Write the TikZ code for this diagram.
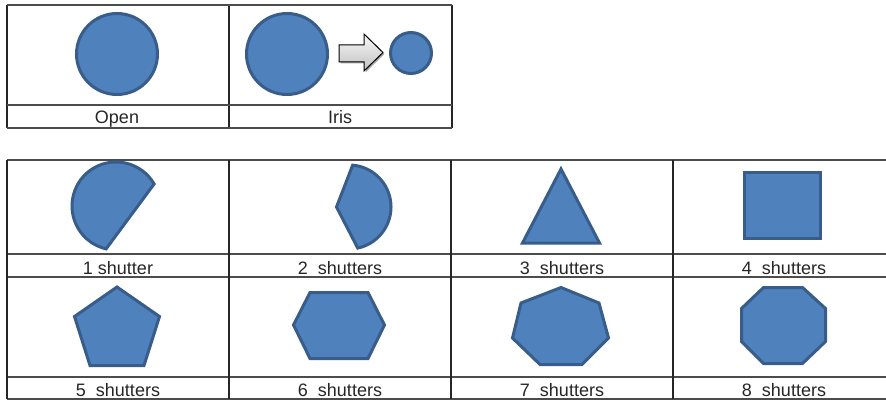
\documentclass[tikz,border=0pt]{standalone}
\usepackage{fontspec}
\setmainfont{Liberation Sans}
\begin{document}
\begin{tikzpicture}[x=1pt,y=-1pt,
  hline/.style={draw=black!70, line width=1.3pt},
  vline/.style={draw=black!85, line width=1.2pt},
  blob/.style={fill=shapefill, draw=shapeline, line width=3pt, line join=miter},
  lbl/.style={anchor=base, inner sep=0pt, text=black!85, font=\fontsize{18}{20}\selectfont}]
\definecolor{shapefill}{HTML}{4F81BD}
\definecolor{shapeline}{HTML}{385D8A}
\useasboundingbox (0,0) rectangle (886,401);
% top table
\draw[vline] (7,5) -- (7,128) (229,5) -- (229,128) (452,5) -- (452,128);
\draw[hline] (7,5) -- (452,5) (7,105) -- (452,105) (7,128) -- (452,128);
% bottom table
\foreach \yy in {160,254,277,377,399} \draw[hline] (7,\yy) -- (886,\yy);
\foreach \xx in {7,229,451,673} \draw[vline] (\xx,160) -- (\xx,399);
% top shapes
\draw[blob] (117,54) circle[radius=40.5];
\draw[blob] (287,54) circle[radius=40.5];
\draw[blob] (411,53) circle[radius=20.5];
\fill[black!35] (340.5,46.5) -- (365.5,46.5) -- (365.5,35.5) -- (384.5,54) -- (365.5,72.5) -- (365.5,63.5) -- (340.5,63.5) -- cycle;
\draw[black, line width=1pt, top color=gray!5, bottom color=gray!50, line join=miter]
  (339,45) -- (364,45) -- (364,34) -- (383,52.5) -- (364,71) -- (364,62) -- (339,62) -- cycle;
% labels top
\node[lbl] (open) at (117,124) {Open};
\node[lbl] (iris) at (340,124) {Iris};
% row 1 shapes
\draw[blob] (116,206) ++(-30:44) arc[start angle=-30, end angle=-257, radius=44] -- cycle;
\draw[blob] (349,207) ++(78:42) arc[start angle=78, end angle=-85, radius=42] -- (336.5,207) -- cycle;
\draw[blob] (561,169) -- (599.5,243) -- (522.5,243) -- cycle;
\draw[blob] (744.5,172.5) rectangle (820.5,238.5);
% row 2 shapes
\draw[blob] (117,287) -- (159.5,316.5) -- (144,365.5) -- (90,365.5) -- (74.5,316.5) -- cycle;
\draw[blob] (293.5,325) -- (310,292.5) -- (368,292.5) -- (384.5,325) -- (368,358.5) -- (310,358.5) -- cycle;
\draw[blob] (561,287.5) -- (599,303) -- (608.5,338) -- (582,364.5) -- (540,364.5) -- (512.5,338) -- (521,303) -- cycle;
\draw[blob] (763.5,287.5) -- (802.5,287.5) -- (825.5,308.5) -- (825.5,341.5) -- (802.5,363.5) -- (763.5,363.5) -- (741.5,341.5) -- (741.5,308.5) -- cycle;
% labels
\node[lbl] (s1) at (118,274) {1 shutter};
\node[lbl] (s2) at (340,274) {2\ \ shutters};
\node[lbl] (s3) at (562,274) {3\ \ shutters};
\node[lbl] (s4) at (784,274) {4\ \ shutters};
\node[lbl] (s5) at (118,396) {5\ \ shutters};
\node[lbl] (s6) at (340,396) {6\ \ shutters};
\node[lbl] (s7) at (562,396) {7\ \ shutters};
\node[lbl] (s8) at (784,396) {8\ \ shutters};
\end{tikzpicture}
\end{document}
